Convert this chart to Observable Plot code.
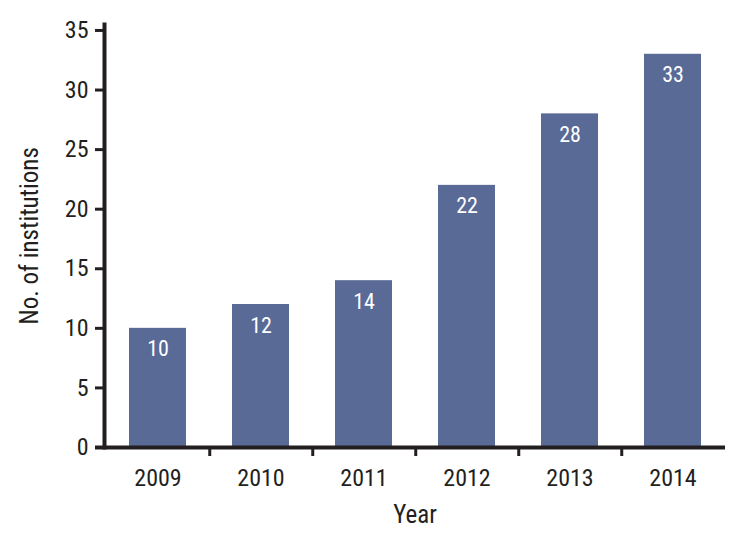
<!DOCTYPE html>
<html>
<head>
<meta charset="utf-8">
<script src="https://cdn.jsdelivr.net/npm/d3@7"></script>
<script src="https://cdn.jsdelivr.net/npm/@observablehq/plot@0.6"></script>
<style>
  html, body { margin: 0; padding: 0; background: #fff; }
  #chart svg { display: block; }
</style>
</head>
<body>
<div id="chart"></div>
<script>
const years = ["2009", "2010", "2011", "2012", "2013", "2014"];
const institutions = [10, 12, 14, 22, 28, 33];
const yTicks = [0, 5, 10, 15, 20, 25, 30, 35];
const xLabel = "Year";
const yLabel = "No. of institutions";

const data = years.map((y, i) => ({year: y, value: institutions[i]}));

const W = 744, H = 537;
const mL = 104, mR = 19, mT = 24, mB = 90;
const halfStep = (W - mL - mR) / years.length / 2;
const FONT = "'Liberation Sans Narrow', 'Roboto Condensed', 'DejaVu Sans Condensed', sans-serif";
const INK = "#231f20";
const BAR = "#596a97";

const chart = Plot.plot({
  width: W,
  height: H,
  marginLeft: mL,
  marginRight: mR,
  marginTop: mT,
  marginBottom: mB,
  style: {fontFamily: FONT, fontSize: "24px", color: INK, background: "#fff"},
  x: {domain: years, paddingInner: 0.45, paddingOuter: 0.225, label: null},
  y: {domain: [0, 35.5], label: null},
  marks: [
    Plot.barY(data, {x: "year", y: "value", fill: BAR}),
    Plot.text(data, {x: "year", y: "value", text: d => String(d.value), fill: "#fff",
      dy: 21, lineAnchor: "middle", fontSize: 22, fontWeight: 400}),
    Plot.axisY({ticks: yTicks, tickSize: 9, tickPadding: 7, strokeWidth: 3, stroke: INK, fill: INK, label: null, fontSize: 24}),
    Plot.axisX({tickSize: 0, tickPadding: 21, fill: INK, label: null, fontSize: 24}),
    Plot.axisX({ticks: years.slice(0, -1), tickSize: 9, tickFormat: () => "", dx: halfStep, strokeWidth: 3, stroke: INK, label: null}),
    Plot.frame({anchor: "left", stroke: INK, strokeWidth: 4}),
    Plot.ruleY([0], {stroke: INK, strokeWidth: 4, insetLeft: -9}),
    Plot.text([xLabel], {frameAnchor: "bottom", dy: 67, textAnchor: "middle", lineAnchor: "middle", fontSize: 25, fill: INK}),
    Plot.text([yLabel], {frameAnchor: "left", dx: -75, rotate: -90, textAnchor: "middle", lineAnchor: "middle", fontSize: 25, fill: INK})
  ]
});
document.getElementById("chart").appendChild(chart);
</script>
</body>
</html>
